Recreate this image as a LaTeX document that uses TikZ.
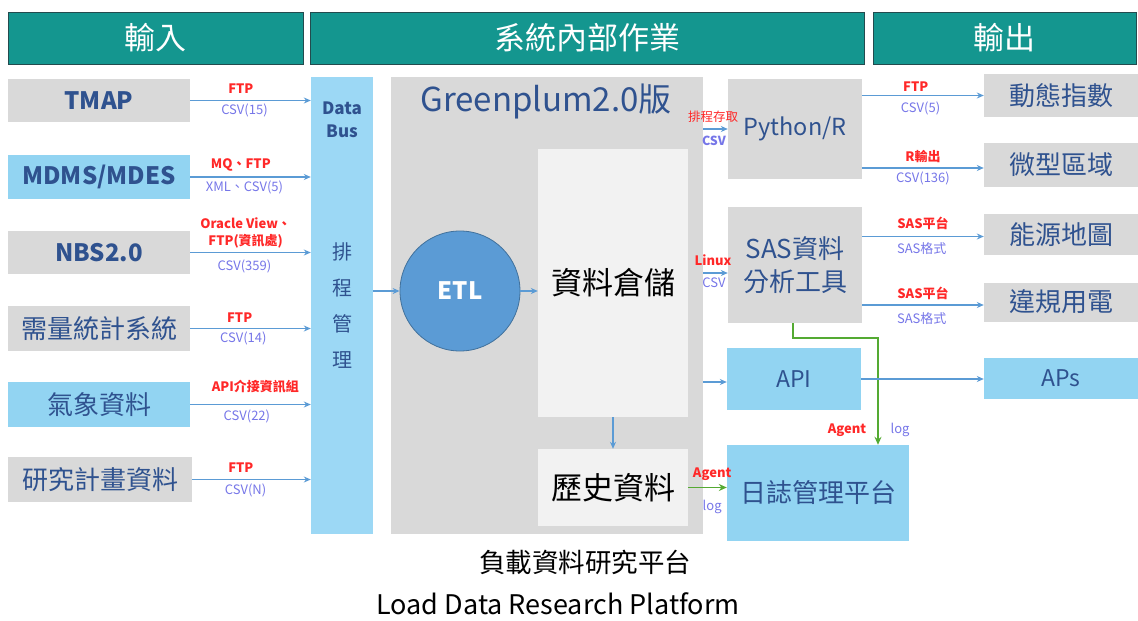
\documentclass[tikz,border=0pt]{standalone}
\usepackage{fontspec}
\setmainfont{Noto Sans CJK TC}
\usetikzlibrary{arrows.meta}
\definecolor{hdteal}{RGB}{20,150,143}
\definecolor{hdedge}{RGB}{35,75,78}
\definecolor{boxgray}{RGB}{217,217,217}
\definecolor{boxblue}{RGB}{146,212,242}
\definecolor{busblue}{RGB}{156,216,245}
\definecolor{paper}{RGB}{242,242,242}
\definecolor{inkblue}{RGB}{47,82,143}
\definecolor{etlblue}{RGB}{91,155,213}
\definecolor{etledge}{RGB}{65,113,156}
\definecolor{lblred}{RGB}{255,40,40}
\definecolor{lblblue}{RGB}{118,118,232}
\definecolor{arrblue}{RGB}{91,155,213}
\definecolor{arrgreen}{RGB}{84,170,50}

\begin{document}
\begin{tikzpicture}[x=1pt,y=-1pt,
	header/.style={draw=hdedge, line width=1pt, fill=hdteal, text=white, inner sep=0pt, font=\fontsize{31}{34}\selectfont},
	box/.style={inner sep=0pt, text=inkblue, font=\fontsize{26}{33}\selectfont},
	graybox/.style={box, fill=boxgray},
	bluebox/.style={box, fill=boxblue},
	boldbox/.style={font=\fontsize{24}{28}\selectfont\bfseries},
	redlbl/.style={text=lblred, inner sep=1pt, font=\fontsize{13}{17}\selectfont\bfseries},
	bluelbl/.style={text=lblblue, inner sep=1pt, font=\fontsize{13}{17}\selectfont},
	bluearr/.style={draw=arrblue, line width=1.1pt, -{Stealth[length=7pt,width=6pt]}},
	greenarr/.style={draw=arrgreen, line width=1.6pt, -{Stealth[length=8pt,width=7pt]}}]
	%%%%% START %%%%%
	\useasboundingbox (0,0) rectangle (1138,621);
	
	\node[header, minimum width=295pt, minimum height=52pt] (hin) at (155.5,38) {輸入};
	\node[header, minimum width=554pt, minimum height=52pt] (hsys) at (587,38) {系統內部作業};
	\node[header, minimum width=263pt, minimum height=52pt] (hout) at (1004.5,38) {輸出};
	
	% inputs
	\node[graybox, boldbox, minimum width=182pt, minimum height=43pt] (tmap) at (99,100.5) {TMAP};
	\node[bluebox, boldbox, minimum width=182pt, minimum height=44pt] (mdms) at (99,177) {MDMS/MDES};
	\node[graybox, boldbox, minimum width=182pt, minimum height=43pt] (nbs) at (99,252.5) {NBS2.0};
	\node[graybox, minimum width=182pt, minimum height=45pt] (demand) at (99,328.5) {需量統計系統};
	\node[bluebox, minimum width=182pt, minimum height=45pt] (weather) at (99,404.5) {氣象資料};
	\node[graybox, minimum width=184pt, minimum height=45pt] (research) at (100,479.5) {研究計畫資料};
	
	\node[fill=busblue, minimum width=62pt, minimum height=457pt] (bus) at (342,305.5) {};
	\node[text=inkblue, align=center, font=\fontsize{17}{23}\selectfont\bfseries] (busname) at (342,120) {Data\\Bus};
	\node[text=inkblue, align=center, font=\fontsize{20}{36}\selectfont] (bussched) at (342,306) {排\\程\\管\\理};
	
	\draw[bluearr] (tmap.east) -- (tmap.east -| bus.west)
		node[redlbl, above=5pt, pos=0.42] (tmapvia) {FTP}
		node[bluelbl, below=2pt, pos=0.45] (tmapfmt) {CSV(15)};
	\draw[bluearr] (mdms.east) -- (mdms.east -| bus.west)
		node[redlbl, above=4pt, pos=0.42] (mdmsvia) {MQ、FTP}
		node[bluelbl, below=2pt, pos=0.45] (mdmsfmt) {XML、CSV(5)};
	\draw[bluearr] (nbs.east) -- (nbs.east -| bus.west)
		node[redlbl, above=3pt, pos=0.46, align=center] (nbsvia) {Oracle View、\\FTP(資訊處)}
		node[bluelbl, below=6pt, pos=0.45] (nbsfmt) {CSV(359)};
	\draw[bluearr] (demand.east) -- (demand.east -| bus.west)
		node[redlbl, above=4pt, pos=0.41] (demandvia) {FTP}
		node[bluelbl, below=2pt, pos=0.44] (demandfmt) {CSV(14)};
	\draw[bluearr] (weather.east) -- (weather.east -| bus.west)
		node[redlbl, above=10pt, pos=0.54] (weathervia) {API介接資訊組}
		node[bluelbl, below=4pt, pos=0.47] (weatherfmt) {CSV(22)};
	\draw[bluearr] (research.east) -- (research.east -| bus.west)
		node[redlbl, above=5pt, pos=0.41] (researchvia) {FTP}
		node[bluelbl, below=3pt, pos=0.45] (researchfmt) {CSV(N)};
	
	% greenplum
	\node[fill=boxgray, minimum width=312pt, minimum height=457pt] (gp) at (547,305.5) {};
	\node[text=inkblue, font=\fontsize{33}{36}\selectfont] (gptitle) at (546,101) {Greenplum2.0版};
	\node[circle, fill=etlblue, draw=etledge, line width=0.8pt, minimum size=120pt, text=white, font=\fontsize{24}{28}\selectfont\bfseries] (etl) at (460,291) {ETL};
	\node[fill=paper, minimum width=150pt, minimum height=268pt, font=\fontsize{31}{36}\selectfont] (wh) at (613,283) {資料倉儲};
	\node[fill=paper, minimum width=150pt, minimum height=77pt, font=\fontsize{31}{36}\selectfont] (hist) at (613,487.5) {歷史資料};
	
	\draw[bluearr] (etl.west -| bus.east) -- (etl.west);
	\draw[bluearr] (etl.east) -- (etl.east -| wh.west);
	\draw[bluearr] (wh.south) -- (hist.north);
	
	% tools
	\node[graybox, font=\fontsize{23.5}{26}\selectfont, minimum width=134pt, minimum height=100pt] (py) at (795,129) {Python/R};
	\node[graybox, align=center, minimum width=134pt, minimum height=116pt] (sas) at (795,265) {SAS資料\\分析工具};
	\node[bluebox, font=\fontsize{23}{26}\selectfont, minimum width=134pt, minimum height=62pt] (api) at (794,379) {API};
	\node[bluebox, minimum width=182pt, minimum height=96pt] (logp) at (818,493) {日誌管理平台};
	
	\draw[bluearr] (py.west -| gp.east) -- (py.west);
	\draw[bluearr] ([yshift=-8pt]sas.west -| gp.east) -- ([yshift=-8pt]sas.west);
	\draw[bluearr] ([yshift=-3pt]api.west -| gp.east) -- ([yshift=-3pt]api.west);
	\node[text=lblred, font=\fontsize{12.5}{15}\selectfont] (pyvia) at (713,117) {排程存取};
	\node[bluelbl, font=\fontsize{12.5}{15}\selectfont\bfseries] (pyfmt) at (714,141) {CSV};
	\node[redlbl] (sasvia) at (713,260) {Linux};
	\node[bluelbl] (sasfmt) at (714,283) {CSV};
	
	\draw[greenarr] (hist.east) -- (hist.east -| logp.west)
		node[redlbl, above=5pt, pos=0.62] (histvia) {Agent}
		node[bluelbl, below=11pt, pos=0.62] (histfmt) {log};
	\draw[greenarr] ([xshift=-2pt]sas.south) -- ++(0,15) -| ([xshift=60pt]logp.north);
	\node[redlbl] (sasagent) at (847,430) {Agent};
	\node[bluelbl] (saslog) at (900,430) {log};
	
	% outputs
	\node[graybox, minimum width=154pt, minimum height=43pt] (dyn) at (1061,95.5) {動態指數};
	\node[graybox, minimum width=154pt, minimum height=44pt] (micro) at (1061,165) {微型區域};
	\node[graybox, minimum width=154pt, minimum height=41pt] (energy) at (1061,234.5) {能源地圖};
	\node[graybox, minimum width=154pt, minimum height=39pt] (theft) at (1061,302) {違規用電};
	\node[bluebox, font=\fontsize{23}{26}\selectfont, minimum width=154pt, minimum height=41pt] (aps) at (1061,378.5) {APs};
	
	\draw[bluearr] (dyn.west -| py.east) -- (dyn.west)
		node[redlbl, above=2pt, pos=0.44] (dynvia) {FTP}
		node[bluelbl, below=5pt, pos=0.48] (dynfmt) {CSV(5)};
	\draw[bluearr] ([yshift=-3pt]micro.west -| py.east) -- ([yshift=-3pt]micro.west)
		node[redlbl, above=4pt, pos=0.5] (microvia) {R輸出}
		node[bluelbl, below=2pt, pos=0.5] (microfmt) {CSV(136)};
	\draw[bluearr] ([yshift=-2pt]energy.west -| sas.east) -- ([yshift=-2pt]energy.west)
		node[redlbl, above=5pt, pos=0.5] (energyvia) {SAS平台}
		node[bluelbl, below=5pt, pos=0.49] (energyfmt) {SAS格式};
	\draw[bluearr] ([yshift=-3pt]theft.west -| sas.east) -- ([yshift=-3pt]theft.west)
		node[redlbl, above=4pt, pos=0.5] (theftvia) {SAS平台}
		node[bluelbl, below=6pt, pos=0.49] (theftfmt) {SAS格式};
	\draw[bluearr] (api.east) -- (api.east -| aps.west);
	
	% caption
	\node[font=\fontsize{26.5}{30}\selectfont] (capzh) at (585,562) {負載資料研究平台};
	\node[font=\fontsize{27}{32}\selectfont] (capen) at (558,604) {Load Data Research Platform};
	
	%%%%% END %%%%%
\end{tikzpicture}
\end{document}
